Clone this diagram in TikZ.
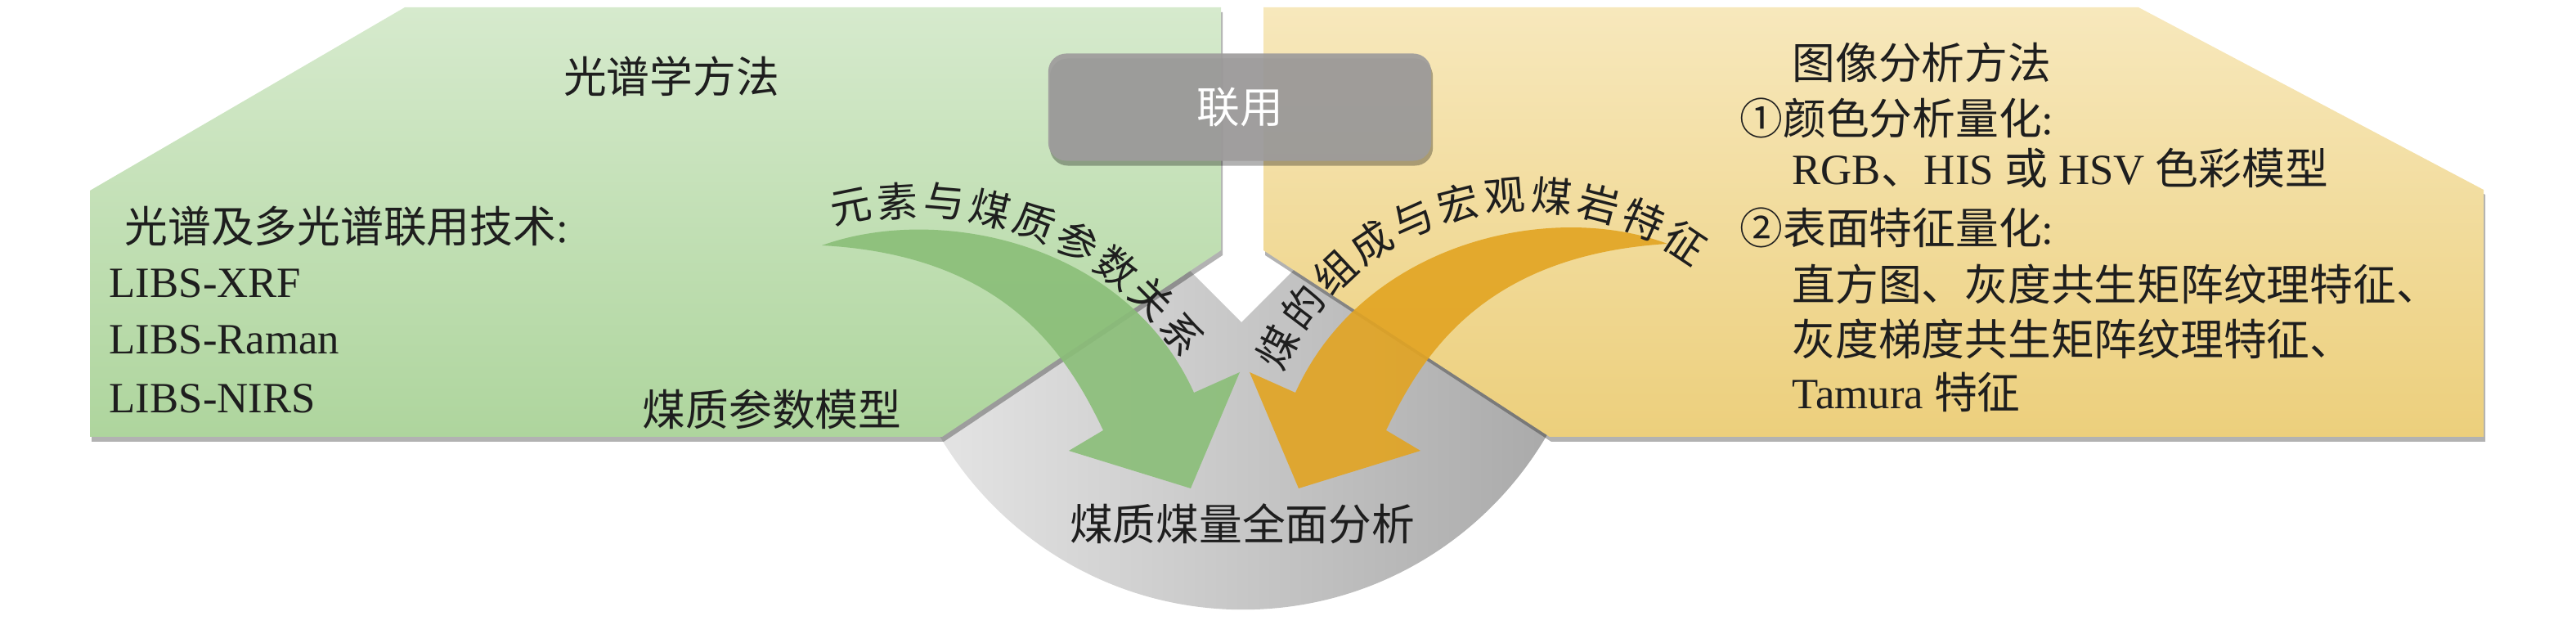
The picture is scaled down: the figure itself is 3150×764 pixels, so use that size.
\documentclass[tikz,border=0pt]{standalone}
\usepackage{fontspec}
\setmainfont{Liberation Serif}
\newfontfamily\cjk{Noto Sans CJK SC}
\usetikzlibrary{shadows,calc}
\definecolor{gtop}{RGB}{214,234,205}
\definecolor{gbot}{RGB}{174,213,157}
\definecolor{ytop}{RGB}{247,232,188}
\definecolor{ybot}{RGB}{236,207,124}
\definecolor{garrow}{RGB}{138,190,120}
\definecolor{yarrow}{RGB}{226,164,34}
\definecolor{boxgray}{RGB}{158,156,156}
\definecolor{txt}{RGB}{30,30,30}
\begin{document}
\begin{tikzpicture}[x=0.01cm,y=0.01cm,
  font=\fontsize{15pt}{18pt}\selectfont,
  lbl/.style={inner sep=0pt, text=txt},
  arc/.style={inner sep=0pt, text=txt, font=\fontsize{14.2pt}{16pt}\selectfont\cjk},
  panelshadow/.style={drop shadow={shadow xshift=0.02cm, shadow yshift=-0.06cm, opacity=0.3, fill=black}},
]
\useasboundingbox (0,0) rectangle (3150,764);

% gray bowl
\begin{scope}
\clip (1518,370) -- (1018,870) -- (1018,-50) -- (2018,-50) -- (2018,870) -- cycle;
\shade[left color=gray!18, right color=gray!70] (1520,449) circle[radius=4.3cm];
\end{scope}

% panels
\path[panelshadow, top color=gtop, bottom color=gbot]
  (110,531) -- (495,755) -- (1493,755) -- (1493,458) -- (1152,230) -- (110,230) -- cycle;
\path[panelshadow, top color=ytop, bottom color=ybot]
  (1545,755) -- (2615,755) -- (3037,532) -- (3037,230) -- (1895,230) -- (1545,458) -- cycle;

% arrows
\fill[garrow, opacity=0.9]
  (1005,464) .. controls (1150,516) and (1378,466) .. (1460,284)
  -- (1516,309) -- (1456,167) -- (1307,213) -- (1349,238)
  .. controls (1305,330) and (1230,452) .. (1005,464) -- cycle;
\fill[yarrow, opacity=0.9]
  (2039,466) .. controls (1894,520) and (1666,466) .. (1584,284)
  -- (1528,309) -- (1588,167) -- (1737,213) -- (1695,238)
  .. controls (1739,330) and (1814,452) .. (2039,466) -- cycle;

% joint box
\node[name=lianyong, fill=boxgray, fill opacity=0.92, text opacity=1,
  rounded corners=0.22cm, minimum width=4.68cm, minimum height=1.31cm,
  drop shadow={shadow xshift=0.02cm, shadow yshift=-0.06cm, opacity=0.3, fill=black}]
  at (1516,633) {\cjk\color{white}联用};

% texts green
\node[lbl] (t1) at (821,671) {\cjk 光谱学方法};
\node[lbl, anchor=west] (t2) at (152,487) {{\cjk 光谱及多光谱联用技术}:};
\node[lbl, anchor=west] (t3) at (133,418) {LIBS-XRF};
\node[lbl, anchor=west] (t4) at (133,349) {LIBS-Raman};
\node[lbl, anchor=west] (t5) at (133,277) {LIBS-NIRS};
\node[lbl] (t6) at (944,264) {\cjk 煤质参数模型};
\node[lbl] (t7) at (1519,124) {\cjk 煤质煤量全面分析};

% texts yellow
\node[lbl, anchor=west] (y1) at (2191,688) {\cjk 图像分析方法};
\node[lbl, anchor=west] (y2) at (2127,620) {{\cjk ①颜色分析量化}:};
\node[lbl, anchor=west] (y3) at (2191,559) {RGB{\cjk 、}HIS {\cjk 或} HSV {\cjk 色彩模型}};
\node[lbl, anchor=west] (y4) at (2127,486) {{\cjk ②表面特征量化}:};
\node[lbl, anchor=west] (y5) at (2191,417) {\cjk 直方图、灰度共生矩阵纹理特征、};
\node[lbl, anchor=west] (y6) at (2191,350) {\cjk 灰度梯度共生矩阵纹理特征、};
\node[lbl, anchor=west] (y7) at (2191,285) {Tamura {\cjk 特征}};

% curved labels
\coordinate (gc) at (1121,113);
\foreach \ch [count=\i from 0] in {元,素,与,煤,质,参,数,关,系} {
  \pgfmathsetmacro\ang{101.4-8.075*\i}
  \pgfmathsetmacro\rot{\ang-90}
  \node[arc, rotate=\rot] (ga\i) at ($(gc)+(\ang:406)$) {\ch};
}
\coordinate (yc) at (1869,180);
\foreach \ch [count=\i from 0] in {煤,的,组,成,与,宏,观,煤,岩,特,征} {
  \pgfmathsetmacro\ang{152.5-9.62*\i}
  \pgfmathsetmacro\rot{\ang-90}
  \node[arc, rotate=\rot] (ya\i) at ($(yc)+(\ang:346)$) {\ch};
}
\end{tikzpicture}
\end{document}
